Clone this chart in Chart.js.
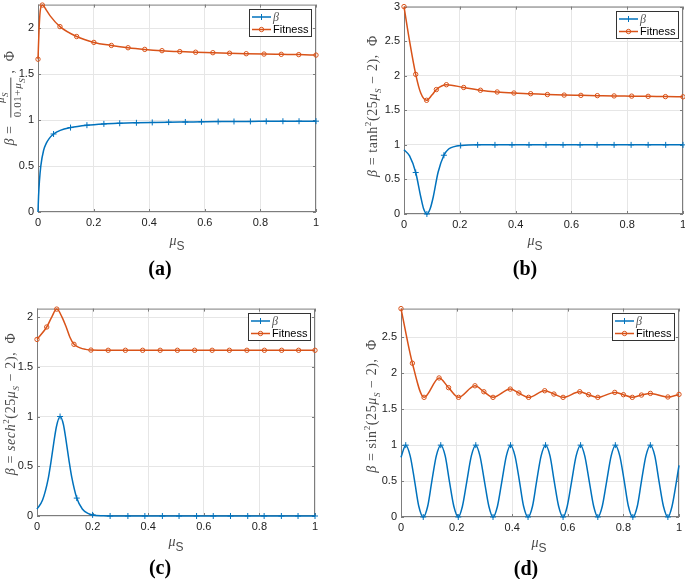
<!DOCTYPE html>
<html>
<head>
<meta charset="utf-8">
<script src="https://cdn.jsdelivr.net/npm/chart.js@4.4.1/dist/chart.umd.min.js"></script>
<style>
  body { margin: 0; background: #fff; width: 685px; height: 579px; position: relative; overflow: hidden; }
  .panel { position: absolute; }
  .ytitle { position: absolute; transform: translate(-50%, -50%) rotate(-90deg); white-space: nowrap;
            font-family: "Liberation Serif", "DejaVu Serif", serif; font-size: 14px; letter-spacing: 0.6px; color: #4a4a4a; }
  .ytitle sub, .ytitle sup { font-size: 9px; }
  .frac { display: inline-block; vertical-align: middle; text-align: center; font-size: 11px; margin: 0 4px; line-height: 12px; }
  .frac span { display: block; }
  .frac .den { border-top: 1px solid #4a4a4a; }
  .xtitle { position: absolute; transform: translate(-50%, -50%); white-space: nowrap; color: #4a4a4a;
            font-family: "Liberation Sans", Arial, sans-serif; font-size: 12px; }
  .xtitle i { font-family: "Liberation Serif", serif; font-size: 14px; position: relative; top: -5px; }
  .cap { position: absolute; transform: translate(-50%, -50%); font: bold 20px "Liberation Serif", "Times New Roman", serif; color: #000; }
</style>
</head>
<body>

<div class="ytitle" style="left:11px; top:98px;"><i>β</i> = <span class="frac"><span><i>μ</i><sub><i>S</i></sub></span><span class="den">0.01+<i>μ</i><sub><i>S</i></sub></span></span>, &nbsp;Φ</div>
<div class="ytitle" style="left:373px; top:106px;"><i>β</i> = tanh<sup>2</sup>(25<i>μ</i><sub><i>S</i></sub> − 2), &nbsp;Φ</div>
<div class="ytitle" style="left:11px; top:404px;"><i>β</i> = <i>sech</i><sup>2</sup>(25<i>μ</i><sub><i>S</i></sub> − 2), &nbsp;Φ</div>
<div class="ytitle" style="left:372px; top:406px;"><i>β</i> = sin<sup>2</sup>(25<i>μ</i><sub><i>S</i></sub> − 2), &nbsp;Φ</div>

<div class="xtitle" style="left:177px; top:246px;"><i>μ</i>S</div>
<div class="xtitle" style="left:535px; top:246px;"><i>μ</i>S</div>
<div class="xtitle" style="left:176px; top:547px;"><i>μ</i>S</div>
<div class="xtitle" style="left:539px; top:548px;"><i>μ</i>S</div>

<div class="cap" style="left:160px; top:268px;">(a)</div>
<div class="cap" style="left:525px; top:268px;">(b)</div>
<div class="cap" style="left:160px; top:567px;">(c)</div>
<div class="cap" style="left:526px; top:568px;">(d)</div>

<script>
// tick labels
const xTicks = [0, 0.2, 0.4, 0.6, 0.8, 1];
const yTicksA = [0, 0.5, 1, 1.5, 2];
const yTicksB = [0, 0.5, 1, 1.5, 2, 2.5, 3];
const yTicksC = [0, 0.5, 1, 1.5, 2];
const yTicksD = [0, 0.5, 1, 1.5, 2, 2.5];

// (a) beta = mu/(0.01+mu)
const muBetaA = [0, 0.002, 0.005, 0.01, 0.02, 0.03, 0.04, 0.056, 0.08, 0.117, 0.176, 0.237, 0.294, 0.354, 0.411, 0.47, 0.53, 0.588, 0.648, 0.705, 0.764, 0.821, 0.881, 0.939, 1.0];
const betaA = [0, 0.17, 0.33, 0.5, 0.67, 0.75, 0.8, 0.85, 0.89, 0.92, 0.946, 0.96, 0.967, 0.972, 0.976, 0.979, 0.981, 0.983, 0.985, 0.986, 0.987, 0.988, 0.989, 0.989, 0.99];
const markBetaA = [0.056, 0.117, 0.176, 0.237, 0.294, 0.354, 0.411, 0.47, 0.53, 0.588, 0.648, 0.705, 0.764, 0.821, 0.881, 0.939, 1.0];
const muFitA = [0, 0.004, 0.008, 0.0156, 0.03, 0.043, 0.079, 0.139, 0.201, 0.264, 0.324, 0.384, 0.446, 0.51, 0.567, 0.629, 0.689, 0.749, 0.813, 0.875, 0.938, 1.0];
const fitA = [1.665, 2.0, 2.19, 2.255, 2.2, 2.14, 2.02, 1.912, 1.848, 1.815, 1.79, 1.772, 1.758, 1.748, 1.741, 1.736, 1.73, 1.725, 1.721, 1.718, 1.715, 1.71];
const markFitA = [0, 0.0156, 0.079, 0.139, 0.201, 0.264, 0.324, 0.384, 0.446, 0.51, 0.567, 0.629, 0.689, 0.749, 0.813, 0.875, 0.938, 1.0];

// (b) beta = tanh^2(25mu-2)
const muBetaB = [0, 0.02, 0.042, 0.06, 0.07, 0.082, 0.094, 0.105, 0.122, 0.143, 0.16, 0.18, 0.203, 0.264, 0.326, 0.387, 0.448, 0.509, 0.57, 0.631, 0.692, 0.753, 0.814, 0.875, 0.938, 1.0];
const betaB = [0.93, 0.84, 0.6, 0.25, 0.08, 0, 0.08, 0.25, 0.6, 0.85, 0.94, 0.975, 0.99, 1, 1, 1, 1, 1, 1, 1, 1, 1, 1, 1, 1, 1];
const markBetaB = [0.042, 0.082, 0.143, 0.203, 0.264, 0.326, 0.387, 0.448, 0.509, 0.57, 0.631, 0.692, 0.753, 0.814, 0.875, 0.938, 1.0];
const muFitB = [0, 0.02, 0.042, 0.06, 0.081, 0.1, 0.116, 0.152, 0.214, 0.274, 0.334, 0.394, 0.454, 0.514, 0.574, 0.634, 0.693, 0.753, 0.816, 0.875, 0.937, 1.0];
const fitB = [3.0, 2.5, 2.02, 1.75, 1.645, 1.72, 1.8, 1.87, 1.83, 1.79, 1.765, 1.75, 1.74, 1.728, 1.72, 1.716, 1.712, 1.708, 1.705, 1.702, 1.698, 1.695];
const markFitB = [0, 0.042, 0.081, 0.116, 0.152, 0.214, 0.274, 0.334, 0.394, 0.454, 0.514, 0.574, 0.634, 0.693, 0.753, 0.816, 0.875, 0.937, 1.0];

// (c) beta = sech^2(25mu-2)
const muBetaC = [0, 0.02, 0.04, 0.05, 0.06, 0.07, 0.083, 0.095, 0.105, 0.115, 0.125, 0.143, 0.163, 0.183, 0.2, 0.24, 0.263, 0.327, 0.388, 0.451, 0.511, 0.574, 0.634, 0.696, 0.758, 0.817, 0.879, 0.939, 1.0];
const betaC = [0.07, 0.16, 0.37, 0.54, 0.73, 0.9, 1, 0.92, 0.75, 0.56, 0.39, 0.18, 0.07, 0.027, 0.011, 0.002, 0, 0, 0, 0, 0, 0, 0, 0, 0, 0, 0, 0, 0];
const markBetaC = [0.083, 0.143, 0.2, 0.263, 0.327, 0.388, 0.451, 0.511, 0.574, 0.634, 0.696, 0.758, 0.817, 0.879, 0.939, 1.0];
const muFitC = [0, 0.035, 0.053, 0.071, 0.09, 0.105, 0.118, 0.133, 0.155, 0.175, 0.194, 0.256, 0.318, 0.38, 0.443, 0.505, 0.567, 0.63, 0.692, 0.755, 0.818, 0.88, 0.941, 1.0];
const fitC = [1.775, 1.9, 2.0, 2.08, 2.0, 1.9, 1.8, 1.726, 1.69, 1.675, 1.668, 1.666, 1.666, 1.666, 1.666, 1.666, 1.666, 1.666, 1.666, 1.666, 1.666, 1.666, 1.666, 1.666];
const markFitC = [0, 0.035, 0.071, 0.133, 0.194, 0.256, 0.318, 0.38, 0.443, 0.505, 0.567, 0.63, 0.692, 0.755, 0.818, 0.88, 0.941, 1.0];

// (d) beta = sin^2(25mu-2)
const muBetaD = [0, 0.017, 0.033, 0.049, 0.064,
  0.080, 0.096, 0.111, 0.127, 0.143, 0.159, 0.174, 0.190,
  0.206, 0.221, 0.237, 0.253, 0.269, 0.284, 0.300, 0.316,
  0.331, 0.347, 0.363, 0.379, 0.394, 0.410, 0.426, 0.441,
  0.457, 0.473, 0.488, 0.504, 0.520, 0.536, 0.551, 0.567,
  0.583, 0.598, 0.614, 0.630, 0.646, 0.661, 0.677, 0.693,
  0.708, 0.724, 0.740, 0.756, 0.771, 0.787, 0.803, 0.818,
  0.834, 0.850, 0.865, 0.881, 0.897, 0.913, 0.928, 0.944,
  0.960, 0.975, 0.991, 1.0];
const betaD = [0.83, 1, 0.85, 0.5, 0.15,
  0, 0.15, 0.5, 0.85, 1, 0.85, 0.5, 0.15,
  0, 0.15, 0.5, 0.85, 1, 0.85, 0.5, 0.15,
  0, 0.15, 0.5, 0.85, 1, 0.85, 0.5, 0.15,
  0, 0.15, 0.5, 0.85, 1, 0.85, 0.5, 0.15,
  0, 0.15, 0.5, 0.85, 1, 0.85, 0.5, 0.15,
  0, 0.15, 0.5, 0.85, 1, 0.85, 0.5, 0.15,
  0, 0.15, 0.5, 0.85, 1, 0.85, 0.5, 0.15,
  0, 0.15, 0.5, 0.72];
const markBetaD = [0.017, 0.080, 0.143, 0.206, 0.269, 0.331, 0.394, 0.457, 0.520, 0.583, 0.646, 0.708, 0.771, 0.834, 0.897, 0.960];
const muFitD = [0, 0.041, 0.083, 0.137, 0.171, 0.207, 0.266, 0.298, 0.331, 0.393, 0.424, 0.459, 0.517, 0.55, 0.583, 0.643, 0.675, 0.708, 0.769, 0.8, 0.832, 0.865, 0.897, 0.96, 1.0];
const fitD = [2.9, 2.14, 1.665, 1.935, 1.8, 1.665, 1.826, 1.743, 1.665, 1.78, 1.725, 1.665, 1.757, 1.711, 1.665, 1.743, 1.702, 1.665, 1.734, 1.702, 1.665, 1.697, 1.72, 1.67, 1.706];
const markFitD = muFitD;

const BLUE = '#0072BD';
const ORANGE = '#D95319';
const AXIS = '#7d7d7d';

// plot area boxes in page pixels: left, top, right, bottom
const panels = [
  { area: [38, 2, 316, 212], yMax: 2.26, yTicks: yTicksA,
    beta: [muBetaA, betaA, markBetaA], fit: [muFitA, fitA, markFitA] },
  { area: [404, 4, 683, 214], yMax: 3, yTicks: yTicksB,
    beta: [muBetaB, betaB, markBetaB], fit: [muFitB, fitB, markFitB] },
  { area: [37, 306, 315, 516], yMax: 2.085, yTicks: yTicksC,
    beta: [muBetaC, betaC, markBetaC], fit: [muFitC, fitC, markFitC] },
  { area: [401, 306, 679, 517], yMax: 2.9, yTicks: yTicksD,
    beta: [muBetaD, betaD, markBetaD], fit: [muFitD, fitD, markFitD] }
];

function series(label, s, color, style, r) {
  const xs = s[0], ys = s[1], marks = s[2];
  return {
    label: label,
    data: xs.map((x, i) => ({ x: x, y: ys[i] })),
    borderColor: color,
    borderWidth: 1.5,
    fill: false,
    clip: false,
    cubicInterpolationMode: 'monotone',
    pointStyle: style,
    pointRadius: ctx => marks.indexOf(xs[ctx.dataIndex]) >= 0 ? r : 0,
    pointHoverRadius: 0,
    pointBorderColor: color,
    pointBackgroundColor: 'rgba(0,0,0,0)',
    pointBorderWidth: 1
  };
}

// matlab style box with inward ticks, under the lines
const boxPlugin = {
  id: 'box',
  beforeDatasetsDraw(chart) {
    const ctx = chart.ctx, a = chart.chartArea;
    const sx = chart.scales.x, sy = chart.scales.y;
    ctx.save();
    ctx.strokeStyle = AXIS;
    ctx.lineWidth = 1;
    ctx.strokeRect(a.left + 0.5, a.top + 0.5, a.right - a.left - 1, a.bottom - a.top - 1);
    ctx.beginPath();
    sx.ticks.forEach(t => {
      const px = Math.round(sx.getPixelForValue(t.value)) + 0.5;
      ctx.moveTo(px, a.bottom); ctx.lineTo(px, a.bottom - 3);
      ctx.moveTo(px, a.top); ctx.lineTo(px, a.top + 3);
    });
    sy.ticks.forEach(t => {
      const py = Math.round(sy.getPixelForValue(t.value)) + 0.5;
      ctx.moveTo(a.left, py); ctx.lineTo(a.left + 3, py);
      ctx.moveTo(a.right, py); ctx.lineTo(a.right - 3, py);
    });
    ctx.stroke();
    ctx.restore();
  }
};

const legendPlugin = {
  id: 'legendBox',
  afterDraw(chart) {
    const ctx = chart.ctx, a = chart.chartArea;
    const w = 62, h = 27;
    const x0 = Math.round(a.right - w - 5), y0 = Math.round(a.top + 4);
    ctx.save();
    ctx.fillStyle = '#fff';
    ctx.fillRect(x0, y0, w, h);
    ctx.strokeStyle = '#333';
    ctx.lineWidth = 1;
    ctx.strokeRect(x0 + 0.5, y0 + 0.5, w, h);
    chart.data.datasets.forEach((ds, i) => {
      const yy = y0 + 8 + i * 12.5;
      ctx.strokeStyle = ds.borderColor;
      ctx.lineWidth = 1.5;
      ctx.beginPath();
      ctx.moveTo(x0 + 3, yy); ctx.lineTo(x0 + 22, yy);
      ctx.stroke();
      ctx.lineWidth = 1;
      ctx.beginPath();
      if (ds.pointStyle === 'cross') {
        ctx.moveTo(x0 + 12.5, yy - 3); ctx.lineTo(x0 + 12.5, yy + 3);
      } else {
        ctx.arc(x0 + 12.5, yy, 2.2, 0, Math.PI * 2);
      }
      ctx.stroke();
      ctx.fillStyle = '#000';
      ctx.textBaseline = 'middle';
      if (i === 0) {
        ctx.font = 'italic 12px "Liberation Serif", serif';
        ctx.fillStyle = '#555';
      } else {
        ctx.font = '11px "Liberation Sans", Arial, sans-serif';
      }
      ctx.fillText(ds.label, x0 + 24, yy + 0.5);
    });
    ctx.restore();
  }
};

const fmt = v => String(+Number(v).toFixed(2));

panels.forEach(p => {
  const [L, T, R, B] = p.area;
  const wrap = document.createElement('div');
  wrap.className = 'panel';
  wrap.style.left = (L - 40) + 'px';
  wrap.style.top = (T - 8) + 'px';
  wrap.style.width = (R - L + 48) + 'px';
  wrap.style.height = (B - T + 32) + 'px';
  const cv = document.createElement('canvas');
  wrap.appendChild(cv);
  document.body.insertBefore(wrap, document.body.firstChild);

  new Chart(cv.getContext('2d'), {
    type: 'line',
    data: {
      datasets: [
        series('β', p.beta, BLUE, 'cross', 3),
        series('Fitness', p.fit, ORANGE, 'circle', 2.2)
      ]
    },
    options: {
      responsive: true,
      maintainAspectRatio: false,
      animation: false,
      events: [],
      layout: { padding: { top: 8, right: 8, left: 0, bottom: 0 } },
      plugins: { legend: { display: false }, tooltip: { enabled: false } },
      scales: {
        x: {
          type: 'linear', min: 0, max: 1,
          afterBuildTicks: s => { s.ticks = xTicks.map(v => ({ value: v })); },
          afterFit: s => { s.height = 24; },
          ticks: { color: '#222', padding: 4, maxRotation: 0, font: { family: '"Liberation Sans", Arial, sans-serif', size: 11 }, callback: fmt },
          grid: { color: '#e6e6e6', drawTicks: false },
          border: { display: false }
        },
        y: {
          type: 'linear', min: 0, max: p.yMax,
          afterBuildTicks: s => { s.ticks = p.yTicks.map(v => ({ value: v })); },
          afterFit: s => { s.width = 40; },
          ticks: { color: '#222', padding: 4, font: { family: '"Liberation Sans", Arial, sans-serif', size: 11 }, callback: fmt },
          grid: { color: '#e6e6e6', drawTicks: false },
          border: { display: false }
        }
      }
    },
    plugins: [boxPlugin, legendPlugin]
  });
});
</script>
</body>
</html>
